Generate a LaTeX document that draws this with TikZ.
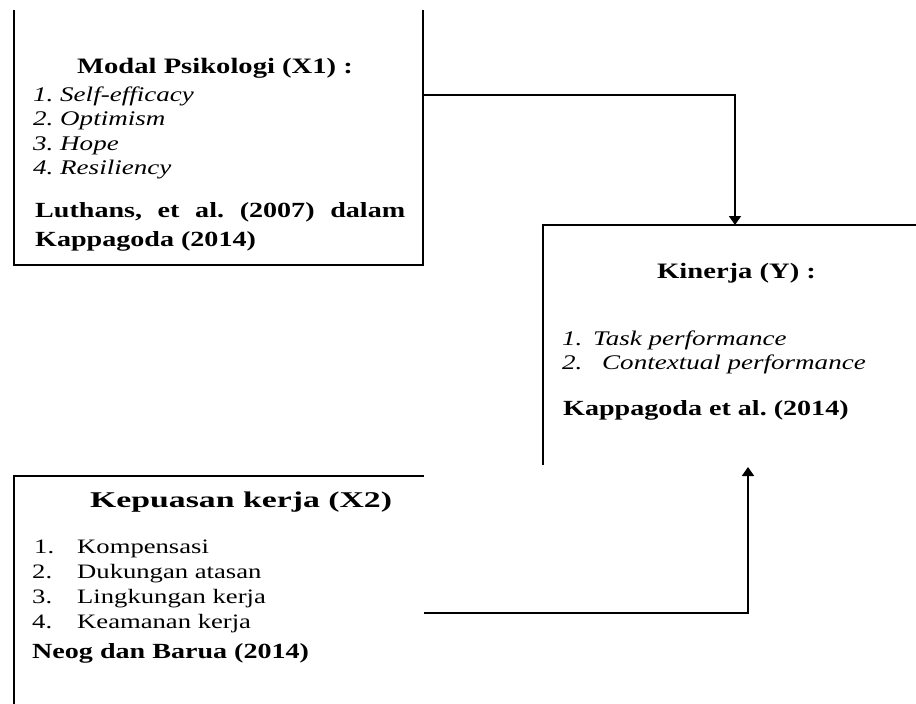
\documentclass[tikz,border=0pt]{standalone}
\usepackage{fontspec}
\setmainfont[FakeStretch=1.3]{Liberation Serif}
\newfontfamily\widefont[FakeStretch=1.5]{Liberation Serif}
\usetikzlibrary{arrows.meta}
\tikzset{
  frame/.style={line width=1.8pt, black},
  link/.style={line width=1.8pt, black, -{Triangle[width=12pt,length=9pt]}},
  head/.style={anchor=base west, inner sep=0pt, font=\fontsize{22}{26}\selectfont\bfseries},
  item/.style={anchor=base west, inner sep=0pt, font=\fontsize{20.8}{24}\selectfont\itshape},
  plain/.style={anchor=base west, inner sep=0pt, font=\fontsize{20.5}{24}\selectfont},
  cite/.style={anchor=base west, inner sep=0pt, font=\fontsize{21.6}{25}\selectfont\bfseries},
}
\begin{document}
\frenchspacing
\begin{tikzpicture}[x=1pt, y=-1pt]
\useasboundingbox (0,0) rectangle (916,704);
\fill[white] (0,0) rectangle (916,704);

% box outlines (open sides as in the original layout)
\coordinate (a1) at (14,10);  \coordinate (a2) at (14,265);
\coordinate (a3) at (423,265); \coordinate (a4) at (423,10);
\draw[frame] (a1) -- (a2) -- (a3) -- (a4);

\coordinate (k1) at (543,465); \coordinate (k2) at (543,225);
\coordinate (k3) at (916,225);
\draw[frame] (k1) -- (k2) -- (k3);

\coordinate (p1) at (14,704); \coordinate (p2) at (14,476);
\coordinate (p3) at (424,476);
\draw[frame] (p1) -- (p2) -- (p3);

% Modal Psikologi (X1)
\node[head] (mtitle) at (77,73) {Modal Psikologi (X1) :};
\node[item] (m1) at (33,101) {1. Self-efficacy};
\node[item] (m2) at (33,125.5) {2. Optimism};
\node[item] (m3) at (33,150) {3. Hope};
\node[item] (m4) at (33,174.5) {4. Resiliency};
\node[cite] (mref1) at (35,217) {\makebox[370pt][s]{Luthans, et al. (2007) dalam}};
\node[cite] (mref2) at (35,246) {Kappagoda (2014)};

% Kinerja (Y)
\node[head] (ktitle) at (657,278) {Kinerja (Y) :};
\node[item] (k1n) at (562,345) {1.};
\node[item] (k1t) at (593,345) {Task performance};
\node[item] (k2n) at (562,369) {2.};
\node[item] (k2t) at (602,369) {Contextual performance};
\node[cite] (kref) at (563,415) {Kappagoda et al. (2014)};

% Kepuasan kerja (X2)
\node[head, font=\fontsize{22.5}{26}\selectfont\widefont\bfseries] (ptitle) at (90,507) {Kepuasan kerja (X2)};
\node[plain] (p1n) at (34,553) {1.};
\node[plain] (p1t) at (77,553) {Kompensasi};
\node[plain] (p2n) at (32,578) {2.};
\node[plain] (p2t) at (77,578) {Dukungan atasan};
\node[plain] (p3n) at (32,603) {3.};
\node[plain] (p3t) at (77,603) {Lingkungan kerja};
\node[plain] (p4n) at (32,628) {4.};
\node[plain] (p4t) at (77,628) {Keamanan kerja};
\node[cite] (pref) at (32,658) {Neog dan Barua (2014)};

% connectors
\coordinate (xa) at (423,95);  \coordinate (ya) at (735,225);
\coordinate (xb) at (424,613); \coordinate (yb) at (748,467);
\draw[link] (xa) -| (ya);
\draw[link] (xb) -| (yb);
\end{tikzpicture}
\end{document}
